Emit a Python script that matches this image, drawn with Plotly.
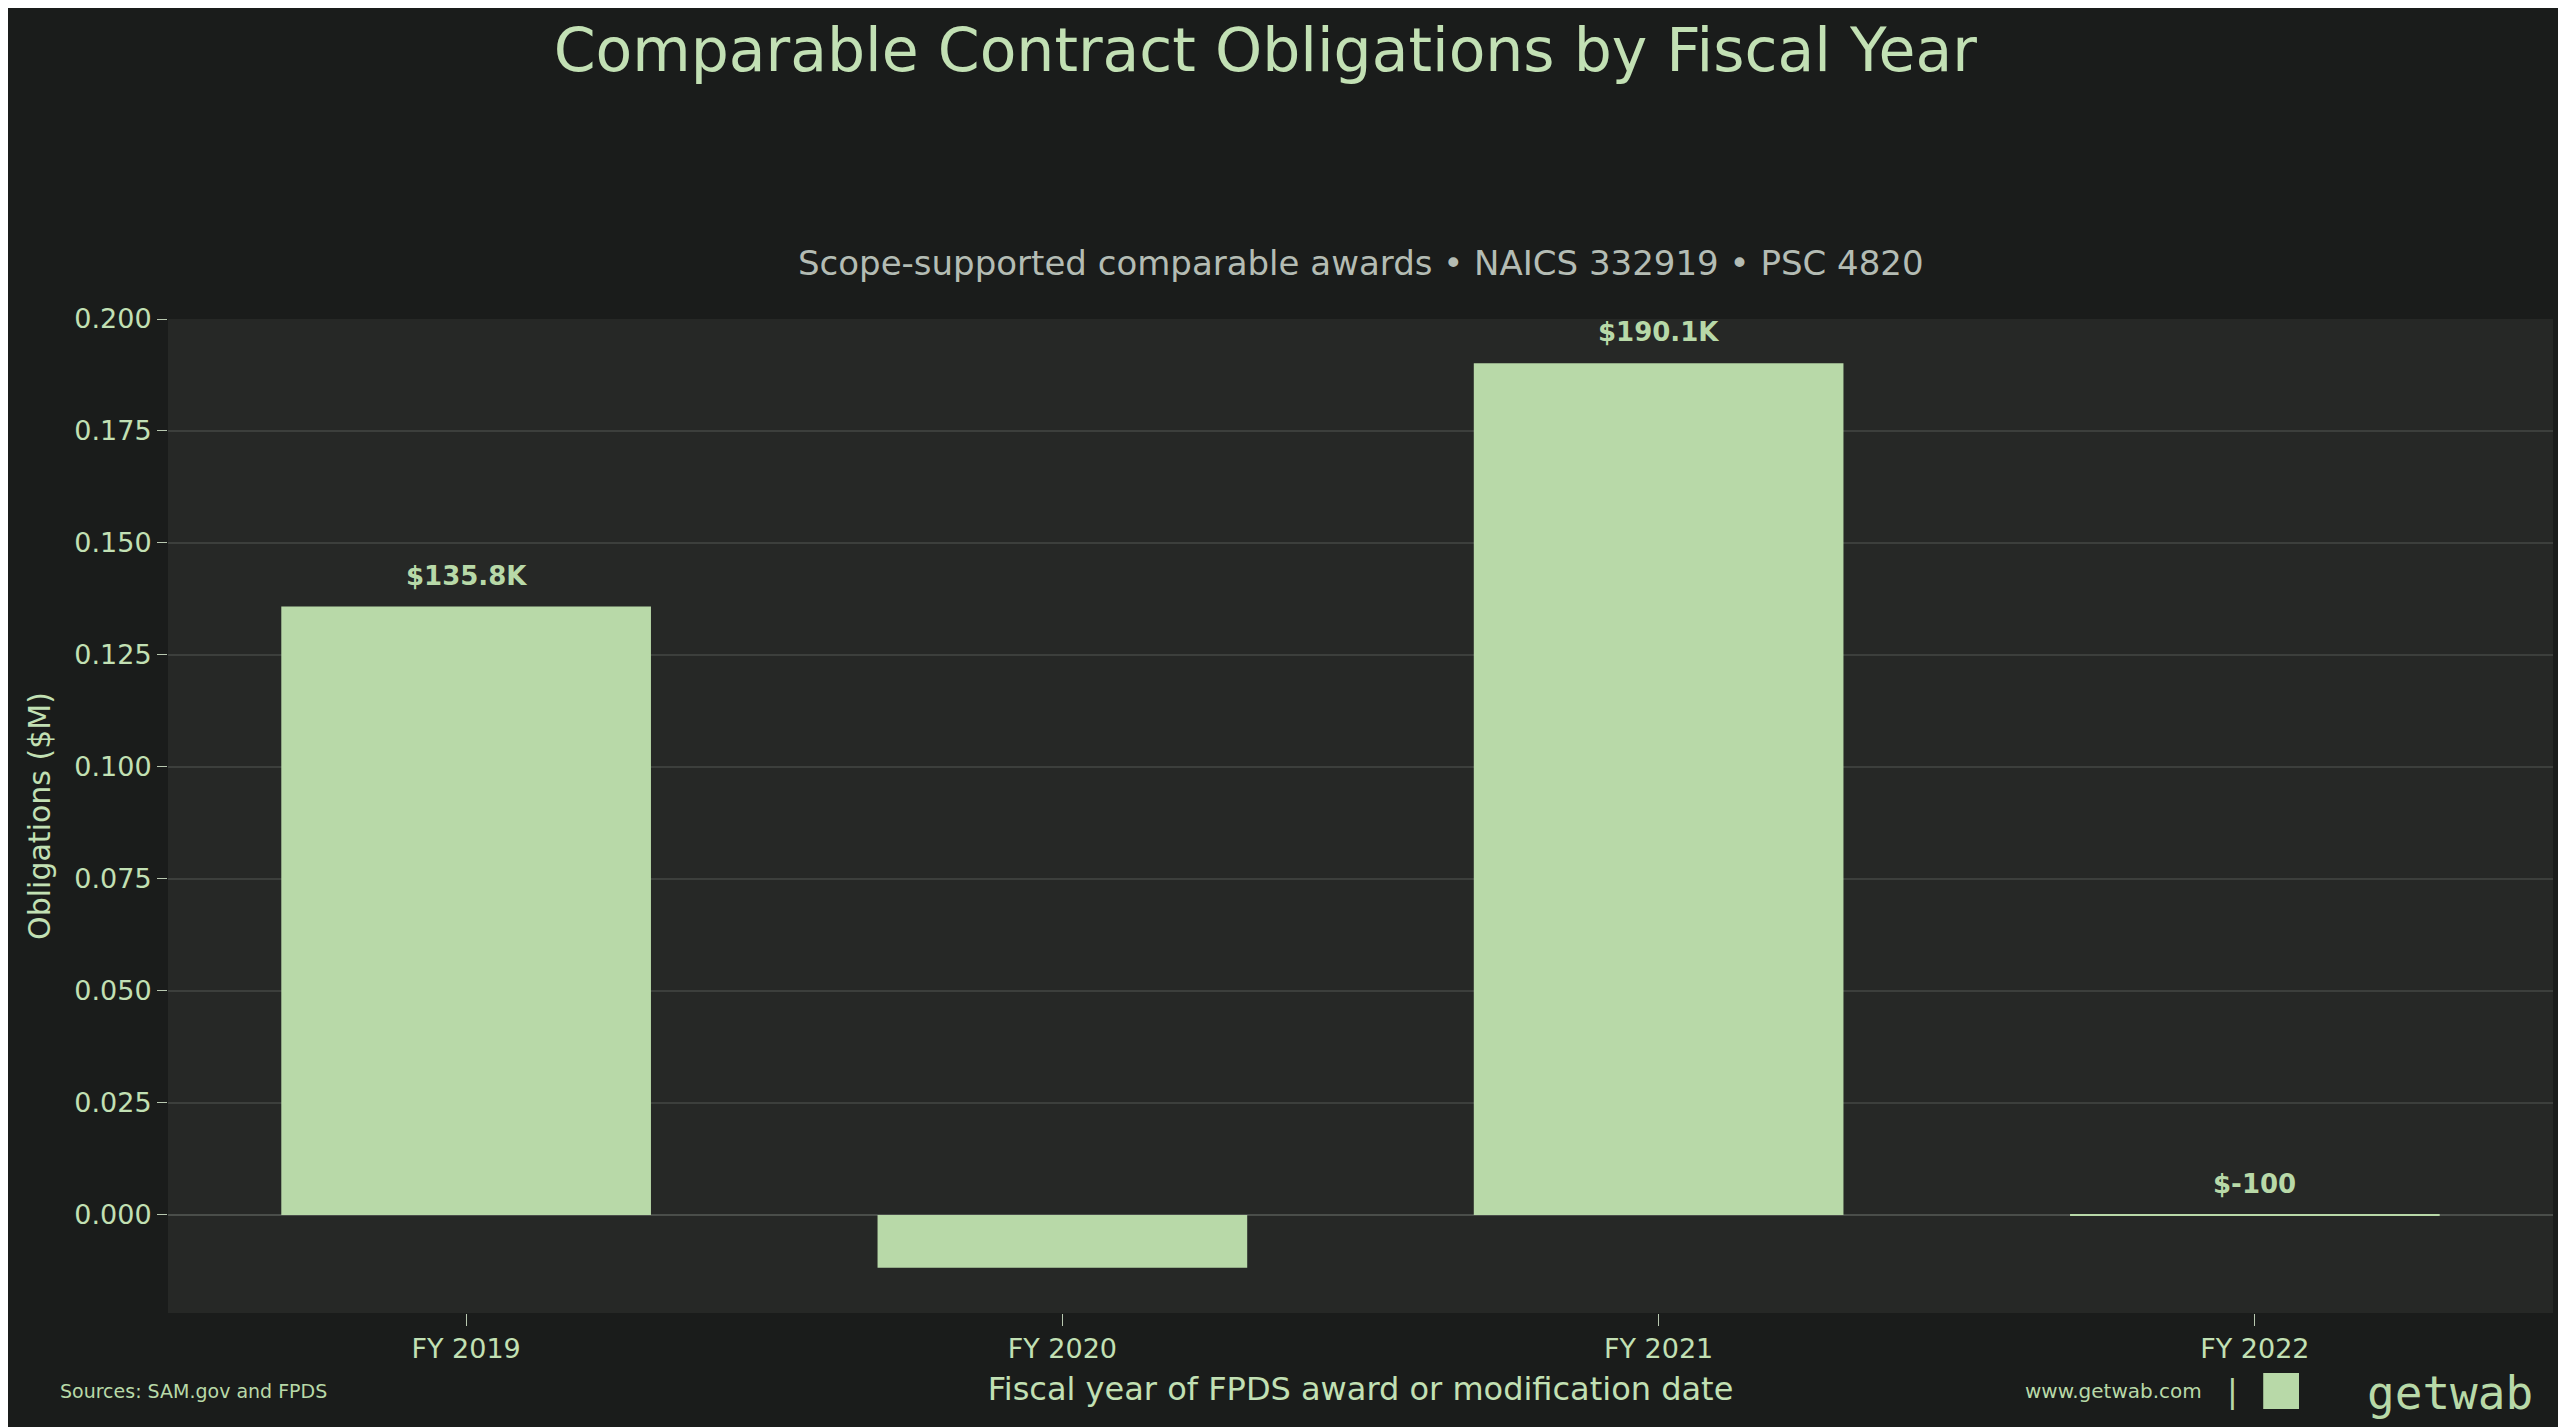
import plotly.graph_objects as go

years = ["FY 2019", "FY 2020", "FY 2021", "FY 2022"]
values_m = [0.1358, -0.0118, 0.1901, -0.0001]
labels = ["$135.8K", "", "$190.1K", "$-100"]

GREEN = "#b8d9a8"
BG = "#1a1c1b"
PBG = "#262826"
FONT = "DejaVu Sans"

fig = go.Figure(go.Bar(
    x=years, y=values_m, width=0.62, marker=dict(color=GREEN, line=dict(width=0)),
))
label_ann = [dict(x=yr, y=max(v, 0), text=t, showarrow=False, yanchor="bottom", yshift=14,
                  font=dict(family=FONT, size=26, color=GREEN, weight="bold"))
             for yr, v, t in zip(years, values_m, labels) if t]
fig.update_layout(
    width=2566, height=1427, paper_bgcolor=BG, plot_bgcolor=PBG,
    margin=dict(l=160, r=21, t=311, b=122),
    font=dict(family=FONT, color=GREEN),
    title=dict(text="Comparable Contract Obligations by Fiscal Year", x=0.49, xanchor="center",
               y=0.985, yanchor="top", font=dict(size=60, color="#c2e0b4")),
    showlegend=False,
    annotations=label_ann + [
        dict(text="Scope-supported comparable awards • NAICS 332919 • PSC 4820", xref="paper", yref="paper",
             x=0.5, y=1.0, yshift=56, showarrow=False, yanchor="middle",
             font=dict(size=34, color="#b4bcb4")),
        dict(text="Sources: SAM.gov and FPDS", xref="paper", yref="paper", x=-0.046, y=0,
             xanchor="left", yanchor="middle", yshift=-78, showarrow=False, font=dict(size=19, color=GREEN)),
        dict(text="www.getwab.com", xref="paper", yref="paper", x=0.8535, y=0, xanchor="right",
             yanchor="middle", yshift=-78, showarrow=False, font=dict(size=20, color=GREEN)),
        dict(text="|", xref="paper", yref="paper", x=0.8655, y=0, xanchor="center",
             yanchor="middle", yshift=-78, showarrow=False, font=dict(size=32, color=GREEN)),
        dict(text="getwab", xref="paper", yref="paper", x=0.9925, y=0, xanchor="right",
             yanchor="middle", yshift=-80, showarrow=False, font=dict(size=46, color=GREEN, family="DejaVu Sans Mono")),
    ],
)
fig.layout.shapes = [dict(type="rect", xref="paper", yref="paper", xsizemode="scaled", ysizemode="pixel",
                          yanchor=0, x0=0.8785, x1=0.8935, y0=-60, y1=-96, fillcolor=GREEN, line=dict(width=0))]
fig.update_xaxes(showgrid=False, ticks="outside", ticklen=12, tickcolor="#b8c8b0",
                 tickfont=dict(size=27, color="#c2e0b4"),
                 title=dict(text="Fiscal year of FPDS award or modification date", font=dict(size=32, color="#c2e0b4"), standoff=14),
                 showline=False, zeroline=False)
fig.update_yaxes(range=[-0.0219, 0.2], tick0=0, dtick=0.025, tickformat=".3f", gridcolor="#3c3f3c", gridwidth=1.5,
                 ticks="outside", ticklen=10, tickcolor="#b8c8b0", tickfont=dict(size=27, color="#c2e0b4"),
                 zeroline=True, zerolinecolor="#4a4e4a", zerolinewidth=2,
                 title=dict(text="Obligations ($M)", font=dict(size=30, color="#c2e0b4"), standoff=14))
fig.write_html("out.html")
